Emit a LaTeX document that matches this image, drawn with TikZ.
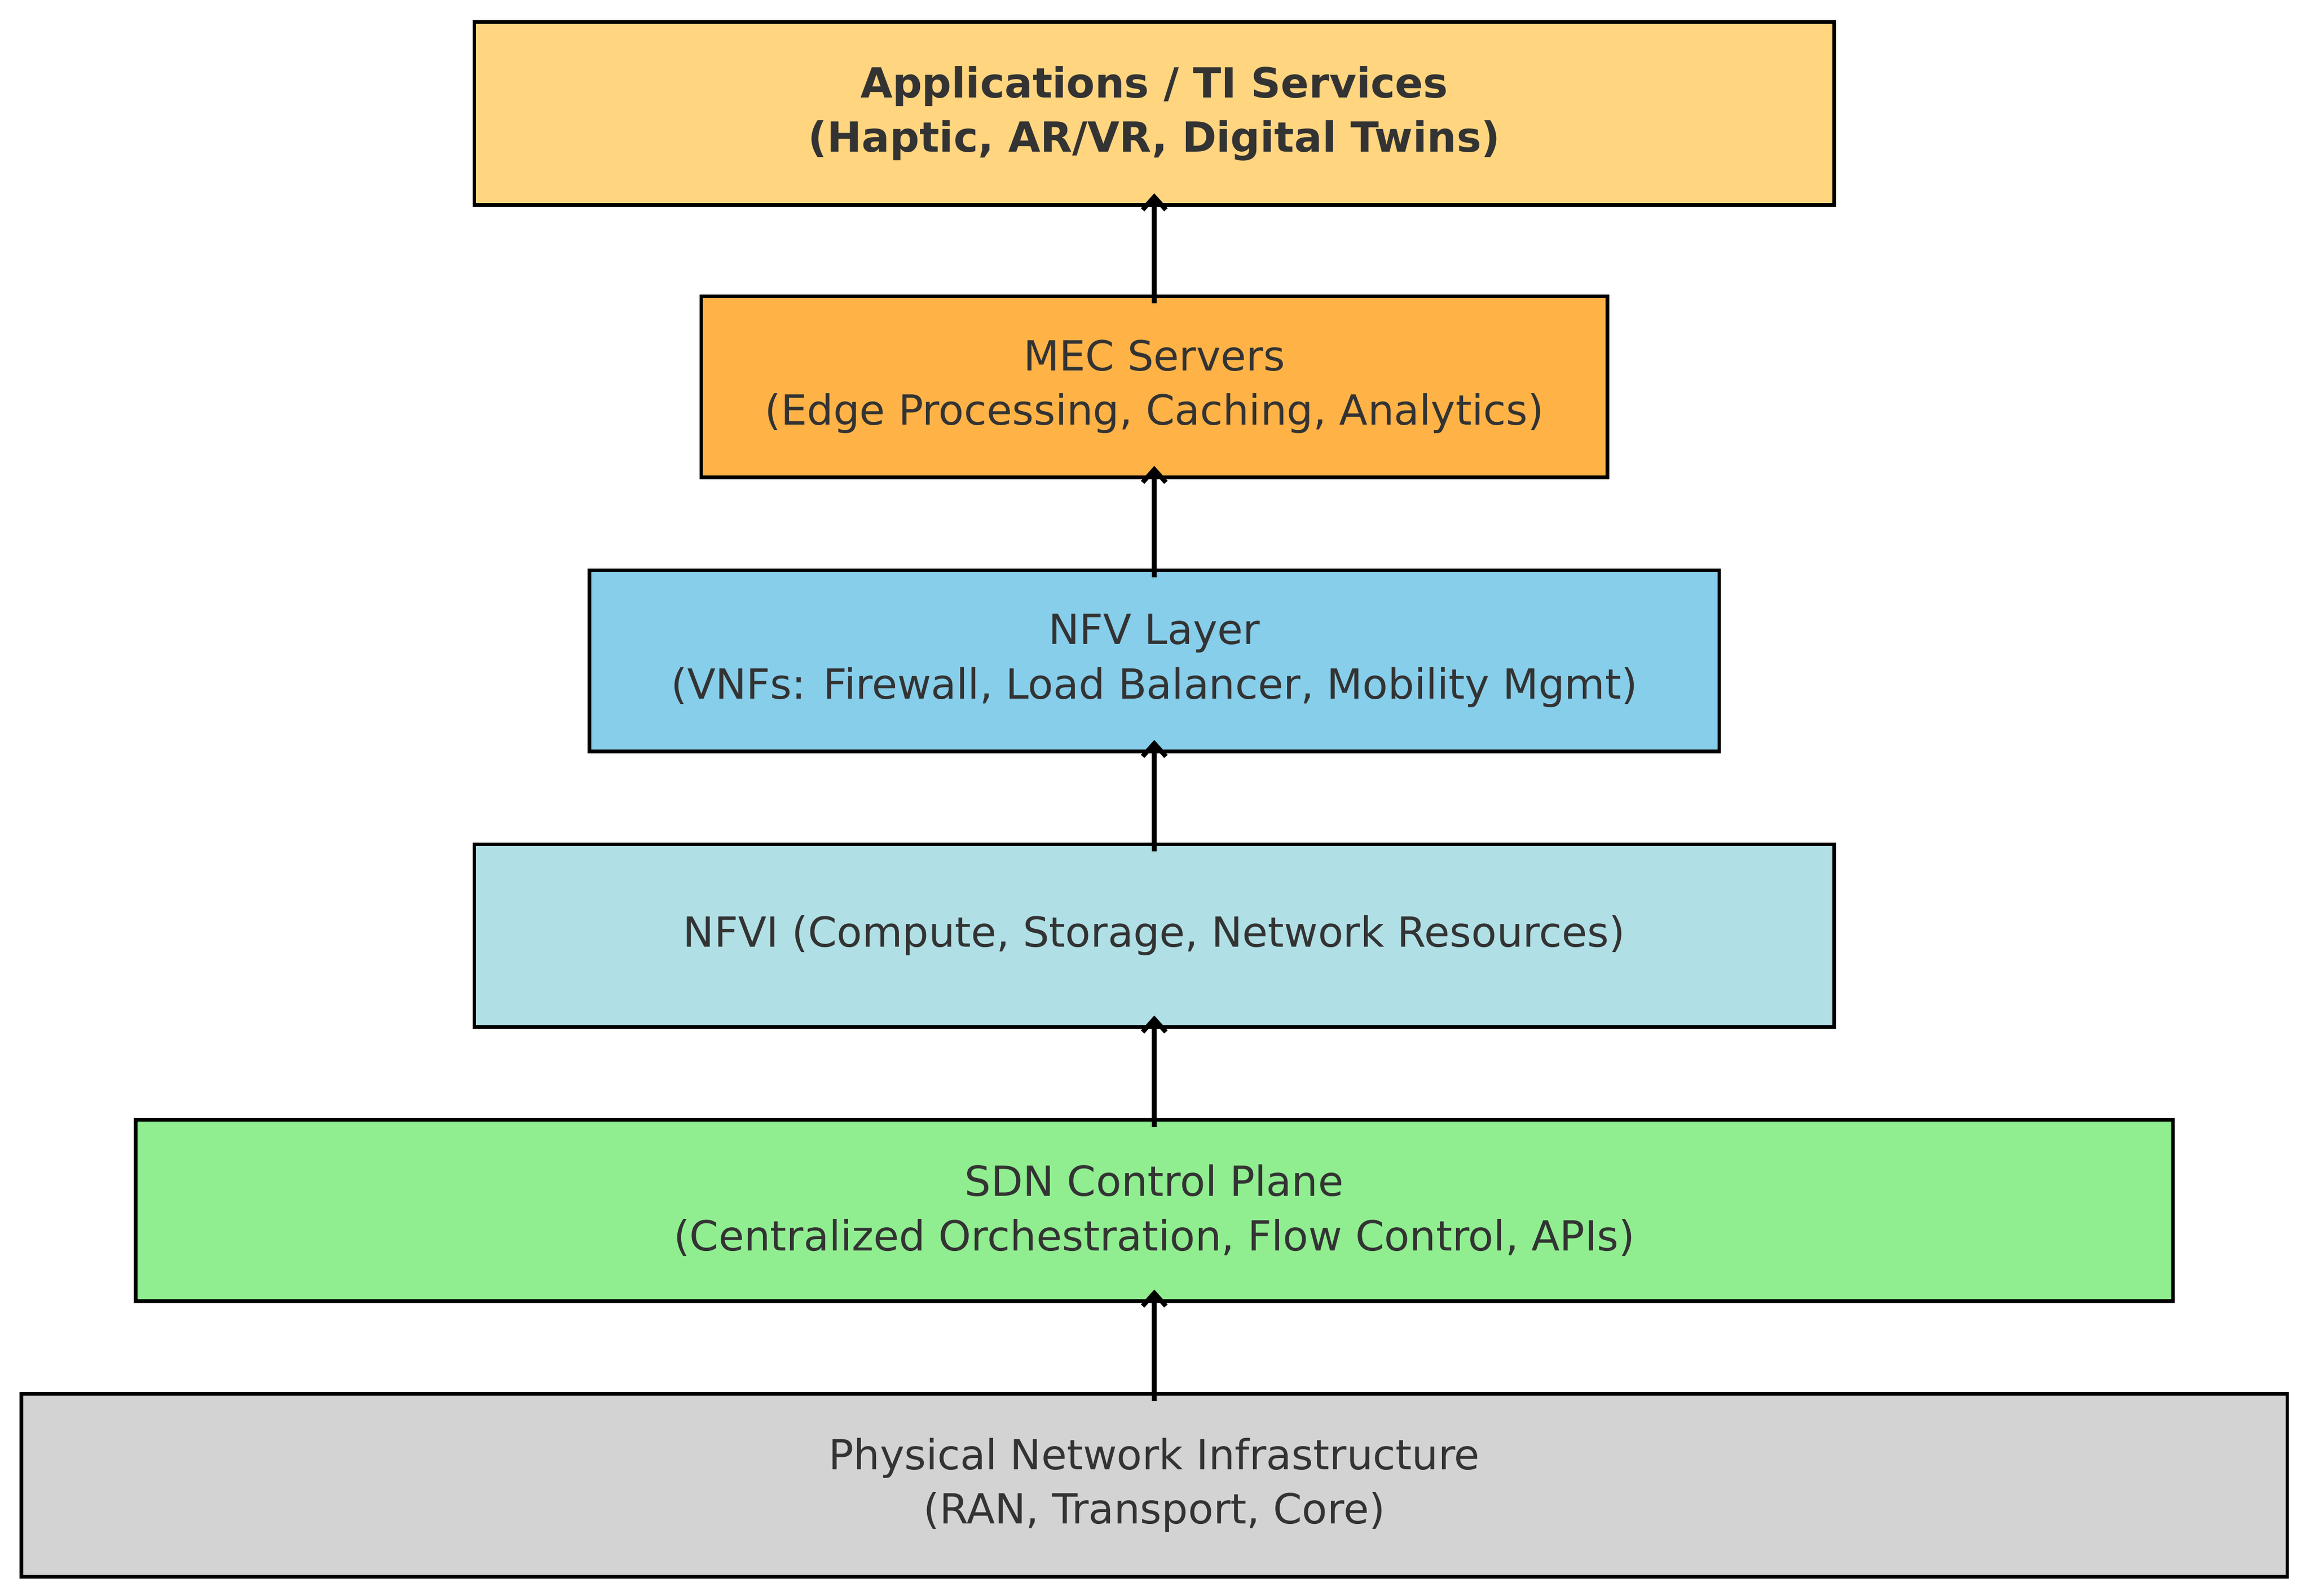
\documentclass[tikz,border=0pt]{standalone}
\usepackage{fontspec}
\setmainfont{DejaVu Sans}
\usetikzlibrary{arrows.meta}
\definecolor{c1}{HTML}{FFD580}
\definecolor{c2}{HTML}{FFB347}
\definecolor{c3}{HTML}{87CEEB}
\definecolor{c4}{HTML}{B0E0E6}
\definecolor{c5}{HTML}{90EE90}
\definecolor{c6}{HTML}{D3D3D3}
\definecolor{txt}{HTML}{333333}
\begin{document}
\begin{tikzpicture}[x=0.02cm,y=-0.02cm,
  box/.style={draw=black,line width=1.4pt,inner sep=0pt,text=txt,align=center,font=\fontsize{16}{21}\selectfont},
  arr/.style={-{Straight Barb[length=5pt,width=9pt]},line width=1.8pt}]
\useasboundingbox (0,0) rectangle (1568,1083);
\node[box,fill=c1,minimum width=923*0.02cm,minimum height=124*0.02cm,font=\fontsize{16}{21}\selectfont\bfseries] (a) at (783.5,77) {Applications / TI Services\\(Haptic, AR/VR, Digital Twins)};
\node[box,fill=c2,minimum width=615*0.02cm,minimum height=123*0.02cm] (b) at (783.5,262.5) {MEC Servers\\(Edge Processing, Caching, Analytics)};
\node[box,fill=c3,minimum width=767*0.02cm,minimum height=123*0.02cm] (c) at (783.5,448.5) {NFV Layer\\(VNFs: Firewall, Load Balancer, Mobility Mgmt)};
\node[box,fill=c4,minimum width=923*0.02cm,minimum height=124*0.02cm] (d) at (783.5,635) {NFVI (Compute, Storage, Network Resources)};
\node[box,fill=c5,minimum width=1383*0.02cm,minimum height=123*0.02cm] (e) at (783.5,821.5) {SDN Control Plane\\(Centralized Orchestration, Flow Control, APIs)};
\node[box,fill=c6,minimum width=1538*0.02cm,minimum height=124*0.02cm] (f) at (783.5,1008) {Physical Network Infrastructure\\(RAN, Transport, Core)};
\draw[arr] ([yshift=-6*0.02cm]b.north) -- ([yshift=9*0.02cm]a.south);
\draw[arr] ([yshift=-6*0.02cm]c.north) -- ([yshift=9*0.02cm]b.south);
\draw[arr] ([yshift=-6*0.02cm]d.north) -- ([yshift=9*0.02cm]c.south);
\draw[arr] ([yshift=-6*0.02cm]e.north) -- ([yshift=9*0.02cm]d.south);
\draw[arr] ([yshift=-6*0.02cm]f.north) -- ([yshift=9*0.02cm]e.south);
\end{tikzpicture}
\end{document}
